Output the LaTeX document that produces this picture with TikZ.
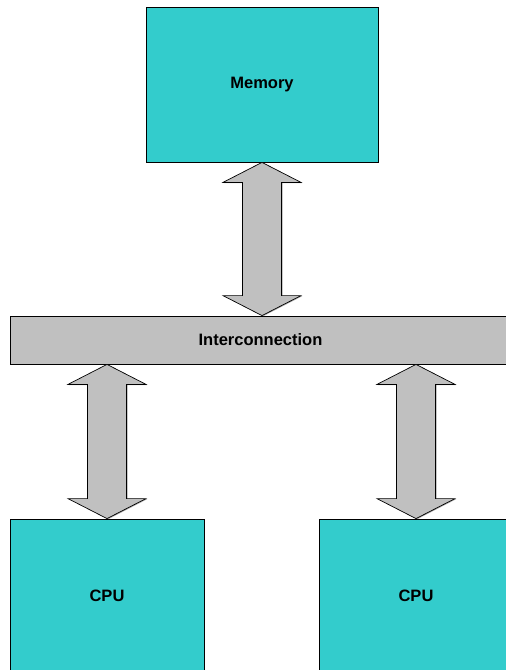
\documentclass[tikz,border=0pt]{standalone}
\usepackage{fontspec}
\setmainfont{Liberation Sans}
\usetikzlibrary{calc,shadows}

\definecolor{unitfill}{HTML}{33CCCC}
\definecolor{busfill}{HTML}{C0C0C0}

% vertical double-headed block arrow from #1 (top) to #2 (bottom)
\newcommand\dblarrow[2]{%
  \draw[blockarrow] let \p1=#1, \p2=#2 in
    (\x1,\y1) -- ++(39pt,-20pt) -- ++(-19.5pt,0pt)
    -- ({\x1+19.5pt},{\y2+20pt}) -- ++(19.5pt,0pt)
    -- (\x1,\y2) -- ++(-39pt,20pt) -- ++(19.5pt,0pt)
    -- ({\x1-19.5pt},{\y1-20pt}) -- ++(-19.5pt,0pt) -- cycle;}

\begin{document}
\begin{tikzpicture}[x=1pt,y=-1pt,
  labeltext/.style={font=\fontsize{16.5}{20}\selectfont\bfseries},
  unit/.style={draw=black, line width=0.8pt, fill=unitfill, rectangle,
    inner sep=0pt,
    drop shadow={shadow xshift=1.2pt, shadow yshift=-0.6pt, fill=black!55, opacity=0.6}},
  bus/.style={draw=black, line width=0.8pt, fill=busfill, rectangle,
    inner sep=0pt,
    drop shadow={shadow xshift=1.2pt, shadow yshift=-0.6pt, fill=black!55, opacity=0.6}},
  blockarrow/.style={draw=black, line width=0.7pt, fill=busfill, line join=miter,
    drop shadow={shadow xshift=1.2pt, shadow yshift=-0.6pt, fill=black!55, opacity=0.6}}]
  \useasboundingbox (0,0) rectangle (506,670);

  \node[unit, minimum width=232pt, minimum height=155pt] (mem) at (262,84.5) {};
  \node[labeltext] (memlabel) at (262,85) {Memory};
  \node[bus, minimum width=500pt, minimum height=48pt] (ic) at (260,340) {};
  \node[labeltext] (iclabel) at (260.5,340) {Interconnection};
  \node[unit, minimum width=194pt, minimum height=160pt] (cpua) at (107,599) {};
  \node[unit, minimum width=194pt, minimum height=160pt] (cpub) at (416,599) {};
  \node[labeltext] (cpualabel) at (107,596) {CPU};
  \node[labeltext] (cpublabel) at (416,596) {CPU};

  \dblarrow{(mem.south)}{(mem.south |- ic.north)}
  \dblarrow{(cpua.north |- ic.south)}{(cpua.north)}
  \dblarrow{(cpub.north |- ic.south)}{(cpub.north)}
\end{tikzpicture}
\end{document}
